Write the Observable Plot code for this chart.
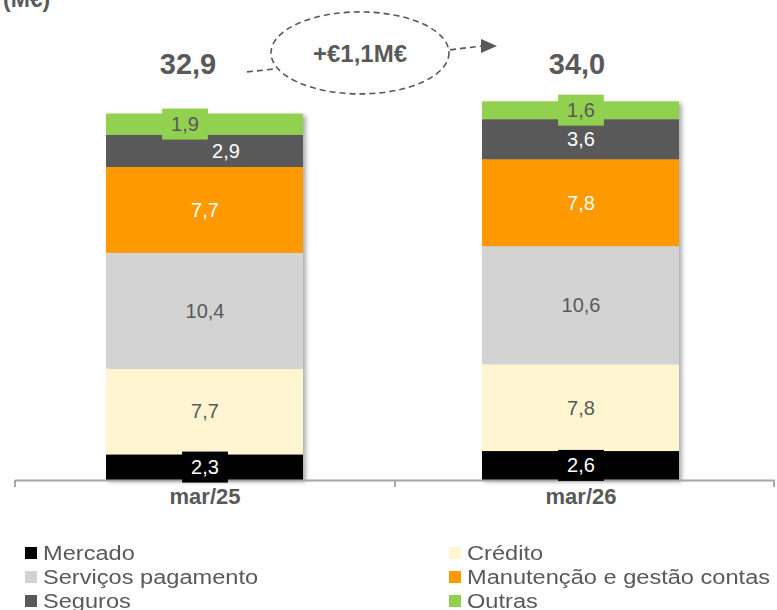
<!DOCTYPE html>
<html><head><meta charset="utf-8">
<script src="https://cdn.jsdelivr.net/npm/d3@7"></script>
<script src="https://cdn.jsdelivr.net/npm/@observablehq/plot@0.6"></script>
<style>
body{margin:0;background:#fff;font-family:"Liberation Sans",Arial,sans-serif;}
#wrap{width:777px;position:relative;}
#legend{position:relative;width:777px;height:80px;}
.li{position:absolute;display:flex;align-items:center;height:24px;color:#595959;font-size:20px;}
.sw{width:12px;height:12px;margin-right:6px;flex:none;}
.lt{display:inline-block;transform:scaleX(1.18);transform-origin:left center;white-space:nowrap;line-height:24px;}
</style></head>
<body><div id="wrap"><div id="chart"></div><div id="legend"></div></div>
<script>
// ---- data ----
const categories = ["mar/25", "mar/26"];
const series = ["Mercado", "Crédito", "Serviços pagamento", "Manutenção e gestão contas", "Seguros", "Outras"];
const valuesMar25 = [2.3, 7.7, 10.4, 7.7, 2.9, 1.9];
const valuesMar26 = [2.6, 7.8, 10.6, 7.8, 3.6, 1.6];
const seriesColors = ["#000000", "#FFF5D1", "#D3D3D3", "#FF9900", "#595959", "#92D050"];
const labelInks = ["#FFFFFF", "#595959", "#595959", "#FFFFFF", "#FFFFFF", "#595959"];
const unitTitle = "(M€)";

// ---- layout tweaks (not data) ----
const labelNudges = [[0, 0, 0, 0, 21, -20], [0, 0, 0, 0, 0, 0]];
const totalNudges = [-17, -4];

const fmt = v => v.toFixed(1).replace(".", ",");
const allValues = [valuesMar25, valuesMar26];
const rows = [];
categories.forEach((cat, ci) => {
  let acc = 0;
  allValues[ci].forEach((v, si) => {
    rows.push({cat, series: series[si], value: v, y1: acc, y2: acc + v, mid: acc + v / 2,
      fill: seriesColors[si], ink: labelInks[si], nudge: labelNudges[ci][si]});
    acc += v;
  });
});
const totals = categories.map((cat, ci) => ({cat, total: d3.sum(allValues[ci])}));
const delta = totals[1].total - totals[0].total;

const W = 777, H = 530, ML = 15, MR = 2, MB = 50;

const chart = Plot.plot({
  width: W, height: H,
  marginLeft: ML, marginRight: MR, marginTop: 0, marginBottom: MB,
  style: {fontFamily: "'Liberation Sans', Arial, sans-serif", color: "#595959", background: "white"},
  x: {domain: categories, paddingInner: 0.4748, paddingOuter: 0.2454, align: 0.4865},
  y: {domain: [0, 43.1], axis: null},
  marks: [
    Plot.barY(rows, {x: "cat", y1: "y1", y2: "y2", fill: "fill"}),
    Plot.ruleY([0], {stroke: "#A6A6A6", strokeWidth: 2}),
    Plot.axisX({tickSize: 0, tickPadding: 8, fontSize: 22, fontWeight: "bold", fill: "#595959", label: null}),
    Plot.text(rows, {x: "cat", y: "mid", text: d => fmt(d.value), fill: "ink", fontSize: 20}),
    ...totals.map((t, i) => Plot.text([t], {x: "cat", y: 37.35, text: d => fmt(d.total), dx: totalNudges[i],
      fontSize: 29, fontWeight: "bold", fill: "#595959"}))
  ]
});
document.getElementById("chart").appendChild(chart);

const svg = d3.select(chart);
const y0 = chart.scale("y").apply(0);

// category boundary ticks on the axis line (frame left, centre, right)
[ML, (ML + W - MR) / 2, W - MR - 1].forEach(x => {
  svg.append("line").attr("x1", x).attr("x2", x).attr("y1", y0).attr("y2", y0 + 7)
    .attr("stroke", "#A6A6A6").attr("stroke-width", 2);
});

// bar shadow
const barG = chart.querySelector("g[aria-label='bar']");
if (barG) barG.style.filter = "drop-shadow(3px 2px 2px rgba(0,0,0,0.32))";

// value label boxes (data-label fill like the original)
const labelG = chart.querySelector("g[aria-label='text']");
const texts = labelG.querySelectorAll("text");
texts.forEach((t, i) => {
  const r = rows[i];
  const tr = (t.getAttribute("transform") || "") + (r.nudge ? ` translate(${r.nudge},0)` : "");
  t.setAttribute("transform", tr);
  const bb = t.getBBox();
  const rect = document.createElementNS("http://www.w3.org/2000/svg", "rect");
  rect.setAttribute("transform", tr);
  rect.setAttribute("x", bb.x - 9);
  rect.setAttribute("y", bb.y - 4.5);
  rect.setAttribute("width", bb.width + 18);
  rect.setAttribute("height", bb.height + 9);
  rect.setAttribute("fill", r.fill);
  t.parentNode.insertBefore(rect, t);
});

// annotation: growth bubble
const xs = chart.scale("x"), ys = chart.scale("y");
const c1 = xs.apply(categories[0]) + xs.bandwidth / 2;
const c2 = xs.apply(categories[1]) + xs.bandwidth / 2;
const cx = (c1 + c2) / 2 - 32.5, cy = ys.apply(38.35);
const ann = svg.append("g").attr("fill", "none").attr("stroke", "#595959").attr("stroke-width", 1.6).attr("stroke-dasharray", "6,4");
ann.append("ellipse").attr("cx", cx).attr("cy", cy).attr("rx", 89).attr("ry", 41);
ann.append("line").attr("x1", cx - 113).attr("y1", cy + 19).attr("x2", cx - 85).attr("y2", cy + 16);
ann.append("line").attr("x1", cx + 90).attr("y1", cy - 3).attr("x2", cx + 122).attr("y2", cy - 7);
svg.append("path").attr("d", `M${cx + 121},${cy - 14}L${cx + 137},${cy - 7}L${cx + 121},${cy}Z`).attr("fill", "#595959");
svg.append("text").attr("x", cx).attr("y", cy + 1).attr("dy", "0.35em").attr("text-anchor", "middle")
  .attr("font-size", 24).attr("font-weight", "bold").attr("fill", "#595959")
  .text("+€" + fmt(delta) + "M€");
svg.append("text").attr("x", 3).attr("y", 7).attr("text-anchor", "start").attr("font-size", 23)
  .attr("font-weight", "bold").attr("fill", "#595959").text(unitTitle);

// legend
const legend = document.getElementById("legend");
series.forEach((s, i) => {
  const col = i % 2, row = Math.floor(i / 2);
  const item = document.createElement("div");
  item.className = "li";
  item.style.left = (col ? 449 : 25) + "px";
  item.style.top = (10.5 + 24 * row) + "px";
  item.innerHTML = `<span class="sw" style="background:${seriesColors[i]}"></span><span class="lt">${s}</span>`;
  legend.appendChild(item);
});
</script>
</body></html>
